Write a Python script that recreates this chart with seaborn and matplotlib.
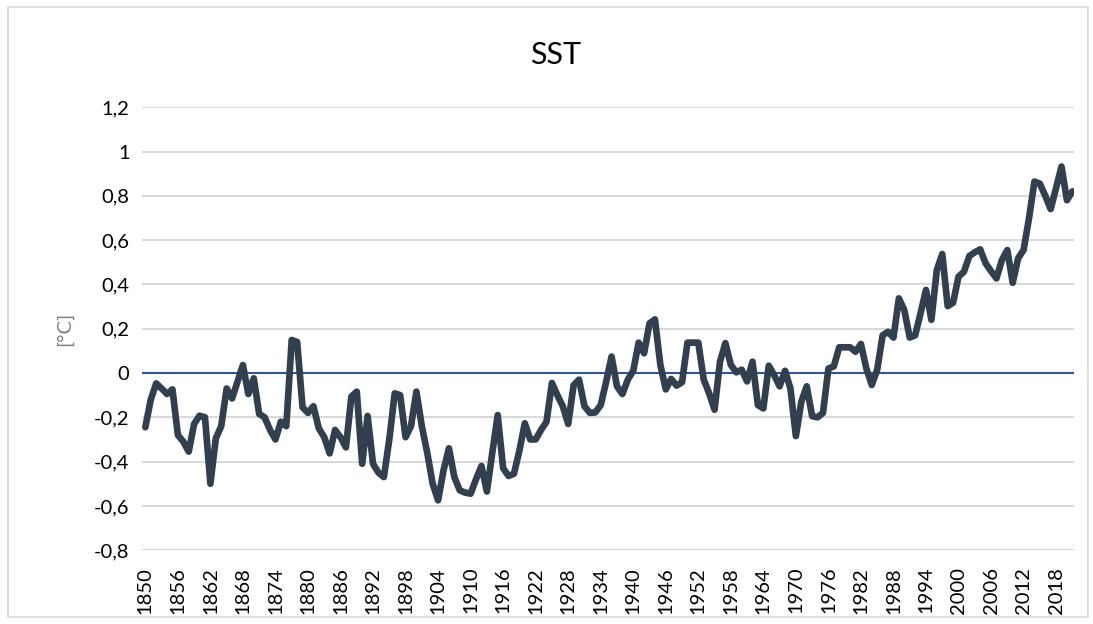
import matplotlib
matplotlib.use("Agg")
import matplotlib.pyplot as plt
import seaborn as sns
import pandas as pd
from matplotlib.patches import Rectangle

# ---- data ----
years = list(range(1850, 2022))
sst = [
    -0.245, -0.12, -0.047, -0.07, -0.095, -0.074, -0.28, -0.31, -0.355, -0.23,   # 1850-1859
    -0.193, -0.20, -0.50, -0.295, -0.24, -0.07, -0.115, -0.04, 0.036, -0.095,    # 1860-1869
    -0.024, -0.185, -0.20, -0.257, -0.30, -0.22, -0.24, 0.149, 0.14, -0.155,     # 1870-1879
    -0.18, -0.15, -0.25, -0.29, -0.363, -0.257, -0.29, -0.336, -0.107, -0.084,   # 1880-1889
    -0.41, -0.194, -0.41, -0.45, -0.47, -0.30, -0.092, -0.10, -0.29, -0.24,      # 1890-1899
    -0.084, -0.24, -0.36, -0.50, -0.575, -0.44, -0.34, -0.47, -0.53, -0.54,      # 1900-1909
    -0.545, -0.48, -0.42, -0.535, -0.36, -0.19, -0.43, -0.465, -0.455, -0.35,    # 1910-1919
    -0.227, -0.30, -0.30, -0.257, -0.22, -0.045, -0.10, -0.15, -0.23, -0.055,    # 1920-1929
    -0.03, -0.15, -0.18, -0.178, -0.145, -0.04, 0.074, -0.06, -0.095, -0.03,     # 1930-1939
    0.01, 0.137, 0.089, 0.224, 0.242, 0.037, -0.074, -0.027, -0.057, -0.042,     # 1940-1949
    0.137, 0.137, 0.137, -0.03, -0.092, -0.166, 0.051, 0.135, 0.037, 0.003,      # 1950-1959
    0.015, -0.038, 0.051, -0.145, -0.16, 0.033, -0.01, -0.06, 0.01, -0.07,       # 1960-1969
    -0.285, -0.13, -0.06, -0.195, -0.20, -0.18, 0.02, 0.03, 0.116, 0.116,        # 1970-1979
    0.116, 0.096, 0.131, 0.02, -0.054, 0.015, 0.17, 0.186, 0.16, 0.337,          # 1980-1989
    0.284, 0.16, 0.17, 0.27, 0.375, 0.24, 0.465, 0.537, 0.302, 0.317,            # 1990-1999
    0.435, 0.457, 0.528, 0.545, 0.558, 0.495, 0.46, 0.427, 0.51, 0.555,          # 2000-2009
    0.407, 0.518, 0.555, 0.698, 0.864, 0.855, 0.80, 0.74, 0.835, 0.932,          # 2010-2019
    0.78, 0.82,                                                                  # 2020-2021
]
xtick_years = list(range(1850, 2019, 6))
ytick_values = [-0.8, -0.6, -0.4, -0.2, 0.0, 0.2, 0.4, 0.6, 0.8, 1.0, 1.2]
ytick_labels = ["-0,8", "-0,6", "-0,4", "-0,2", "0", "0,2", "0,4", "0,6", "0,8", "1", "1,2"]
title_text = "SST"
ylabel_text = "[°C]"

df = pd.DataFrame({"year": years, "sst": sst})

sns.set_style("white")
plt.rcParams["font.family"] = ["Lato", "DejaVu Sans"]

fig = plt.figure(figsize=(10.93, 6.24), dpi=100)
ax = fig.add_axes([0.130, 0.1183, 0.8526, 0.7099])

# gridlines
for v in ytick_values:
    if v != 0:
        ax.axhline(v, color="#d9d9d9", lw=1.5, zorder=0)
ax.axhline(0, color="#2f5597", lw=1.5, zorder=1)

sns.lineplot(data=df, x="year", y="sst", ax=ax, color="#323f4f", lw=4.8,
             solid_joinstyle="round", solid_capstyle="round", zorder=3)

ax.set_xlim(1849.4, 2021.3)
ax.set_ylim(-0.8, 1.2)
ax.set_yticks(ytick_values)
ax.set_yticklabels(ytick_labels)
ax.set_xticks(xtick_years)
ax.set_xticklabels([str(y) for y in xtick_years], rotation=90)
ax.tick_params(axis="x", length=0, pad=12, labelsize=14.5, colors="#000000")
ax.tick_params(axis="y", length=0, pad=9, labelsize=14.5, colors="#000000")
for s in ax.spines.values():
    s.set_visible(False)
ax.grid(False)
ax.set_xlabel("")
ax.set_ylabel(ylabel_text, fontsize=14.5, color="#7f7f7f", labelpad=15)

fig.text(0.508, 1 - 55 / 624, title_text, ha="center", va="center",
         fontsize=22, color="#000000")

fig.patches.append(Rectangle((0.007, 0.012), 0.988, 0.976, transform=fig.transFigure,
                             fill=False, edgecolor="#d9d9d9", lw=1.2))

fig.savefig("out.png", dpi=100)
